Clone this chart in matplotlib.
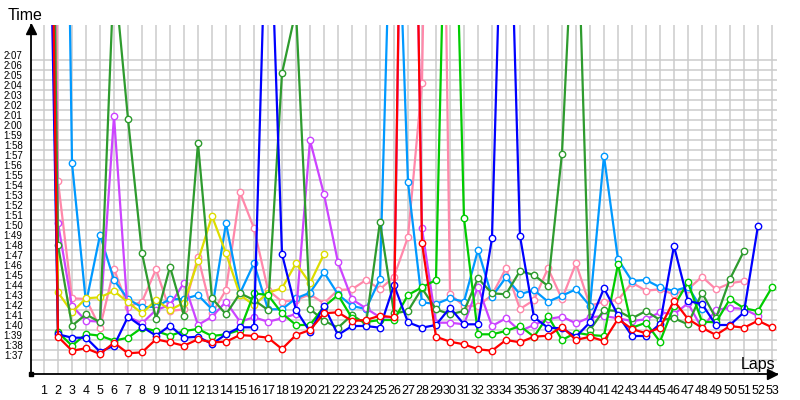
import numpy as np
import matplotlib.pyplot as plt
from matplotlib.transforms import offset_copy

nan = np.nan
laps = np.arange(1, 54)

# lap times in seconds (values far above 2:07 are pit / start laps)
red = [200, 99.33, 97.93, 98.17, 97.6, 98.73, 97.67, 97.77, 99.07, 98.77,
       98.43, 99.07, 98.77, 98.83, 99.5, 99.4, 99.23, 98.1, 99.5, 100.0,
       101.67, 101.77, 100.9, 101.0, 101.43, 101.27, 195, 108.67, 99.33, 98.83,
       98.57, 98.07, 97.93, 99.0, 98.77, 99.33, 99.43, 100.33, 99.0, 99.33,
       98.9, 101.1, 100.1, 99.67, 100.23, 102.93, 101.1, 100.23, 99.5, 100.4,
       100.23, 100.93, 100.27]
blue = [176, 99.57, 99.23, 99.23, 97.83, 98.43, 101.33, 100.33, 99.43, 100.43,
        99.23, 99.33, 98.6, 99.57, 100.27, 100.27, 149, 107.6, 102.0, 99.83,
        102.4, 99.5, 100.4, 100.4, 100.23, 104.5, 100.77, 100.23, 100.5, 102.23,
        100.57, 100.57, 109.17, 159, 109.4, 101.27, 100.23, 100.17, 99.33, 100.77,
        104.17, 101.5, 99.4, 99.4, 100.6, 108.4, 102.9, 102.6, 100.5, 100.5,
        101.77, 110.4, nan]
green = [190, 99.77, 98.43, 99.6, 99.43, 98.93, 99.23, 100.23, 99.9, 99.43,
         99.9, 100.1, 99.4, 99.57, 100.0, 103.67, 103.5, 101.67, 100.5, 100.5,
         102.33, 103.5, 101.2, 100.8, 101.0, 101.0, 103.5, 104.27, 105.0, 165,
         111.17, 99.57, 99.57, 99.9, 100.4, 99.33, 101.4, 99.0, 99.73, 99.5,
         99.4, 106.57, 100.23, 100.73, 98.83, 102.4, 104.77, 100.83, 100.77, 103.1,
         102.17, 101.9, 104.27]
darkgreen = [210, 108.5, 100.43, 101.57, 100.77, 136, 121.1, 107.67, 101.1, 106.33,
             101.43, 118.67, 103.17, 101.57, 103.67, 103.0, 102.0, 125.67, 132, 102.1,
             100.93, 100.23, 101.5, 100.6, 110.83, 101.67, 101.9, 104.17, 102.07, 101.57,
             101.9, 105.17, 103.67, 103.57, 105.9, 105.5, 104.4, 117.63, 147, 100.0,
             102.0, 101.9, 101.17, 101.9, 101.0, 101.17, 100.57, 103.73, 101.17, 105.1,
             107.9, nan, nan]
lightblue = [230, 213, 116.67, 102.67, 109.5, 105.0, 103.1, 102.27, 102.33, 103.07,
             103.1, 103.5, 102.07, 110.67, 103.67, 106.67, 102.07, 102.07, 103.17, 103.73,
             105.77, 103.57, 102.4, 102.1, 105.1, 155, 114.77, 102.77, 102.6, 103.17,
             102.83, 108.0, 103.33, 105.27, 103.57, 104.0, 102.83, 103.43, 104.07, 102.4,
             117.4, 107.07, 104.9, 105.0, 104.27, 103.9, 104.33, 102.07, nan, nan,
             nan, nan, nan]
pink = [280, 114.9, 103.17, 103.1, 100.23, 106.1, 102.33, 102.83, 106.07, 101.9,
        102.07, 107.33, 101.67, 104.0, 113.77, 110.17, 104.0, 102.83, 103.0, 103.57,
        102.67, 104.0, 104.07, 105.0, 104.07, 105.33, 109.3, 124.67, 206, 103.57,
        102.4, 102.4, 103.5, 106.17, 102.1, 103.0, 106.17, 103.1, 106.67, 102.43,
        102.83, 103.0, 104.73, 103.93, 104.07, 103.57, 104.07, 105.33, 104.07, 104.67,
        104.9, nan, nan]
purple = [220, 110.7, 102.4, 100.93, 100.83, 121.4, 101.33, 100.67, 102.0, 102.5,
          104.73, 100.5, 101.33, 102.83, 100.83, 101.27, 100.83, 101.17, 101.6, 118.97,
          113.57, 106.77, 103.07, 102.17, 101.27, 101.27, 190, 110.17, 100.73, 100.73,
          100.57, 104.33, 100.4, 101.17, 99.9, 100.5, 101.1, 101.33, 100.67, 101.27,
          101.4, 101.17, 100.9, 101.07, 101.77, 101.57, 102.67, 100.17, 102.0, 102.23,
          102.1, 101.4, nan]
yellow = [228, 103.77, 101.77, 103.17, 103.27, 103.9, 102.77, 101.67, 103.0, 102.0,
          102.73, 106.9, 111.4, 107.67, 103.5, 102.5, 103.73, 104.17, 106.67, 104.67,
          107.6] + [nan] * 32

series = [
    (pink, '#ff88aa'),
    (lightblue, '#0099ff'),
    (purple, '#cc44ff'),
    (yellow, '#dddd00'),
    (darkgreen, '#2e9b2e'),
    (green, '#00cc00'),
    (blue, '#0000ff'),
    (red, '#ff0000'),
]

fig = plt.figure(figsize=(8, 4), dpi=100)
ax = fig.add_axes([31 / 800, 26 / 400, 746 / 800, 349 / 400])
ax.set_xlim(0.071, 53.36)
ax.set_ylim(95.6, 130.5)

grid = '#cccccc'
for lap in laps:
    ax.axvline(lap, color=grid, lw=1.1, zorder=0)
for s in range(97, 128):
    ax.axhline(s, color=grid, lw=1.1, zorder=0)

for vals, c in series:
    ax.plot(laps, vals, color=c, lw=1.6, marker='o', ms=4.6,
            mfc='white', mec=c, mew=1.0)

# ticks
ax.set_xticks(laps)
ax.set_xticklabels([str(n) for n in laps], fontsize=9, family='Liberation Sans')
secs = np.arange(97, 128)
ax.set_yticks(secs + 0.5)
ax.set_yticklabels([f"{s // 60}:{s % 60:02d}" for s in secs],
                   fontsize=7, family='Liberation Sans')
ax.tick_params(axis='x', length=0, pad=8)
ax.tick_params(axis='y', length=0, pad=6)

for side in ['top', 'right']:
    ax.spines[side].set_visible(False)
for side in ['left', 'bottom']:
    ax.spines[side].set_linewidth(1.3)
    ax.spines[side].set_color('black')

# axis arrows and origin mark
up = offset_copy(ax.transAxes, fig=fig, x=0, y=-4, units='dots')
ax.plot([0], [1], marker='^', ms=7, color='black', transform=up, clip_on=False)
right = offset_copy(ax.transAxes, fig=fig, x=-5, y=0, units='dots')
ax.plot([1], [0], marker='>', ms=7, color='black', transform=right, clip_on=False)
ax.plot([0], [0], marker='s', ms=3, color='black', transform=ax.transAxes, clip_on=False)

fig.text(8 / 800, 1 - 15 / 400, 'Time', fontsize=11.5, ha='left', va='center',
         family='Liberation Sans')
fig.text(775 / 800, 1 - 364 / 400, 'Laps', fontsize=11.5, ha='right', va='center',
         family='Liberation Sans')

fig.savefig('out.png', dpi=100)
